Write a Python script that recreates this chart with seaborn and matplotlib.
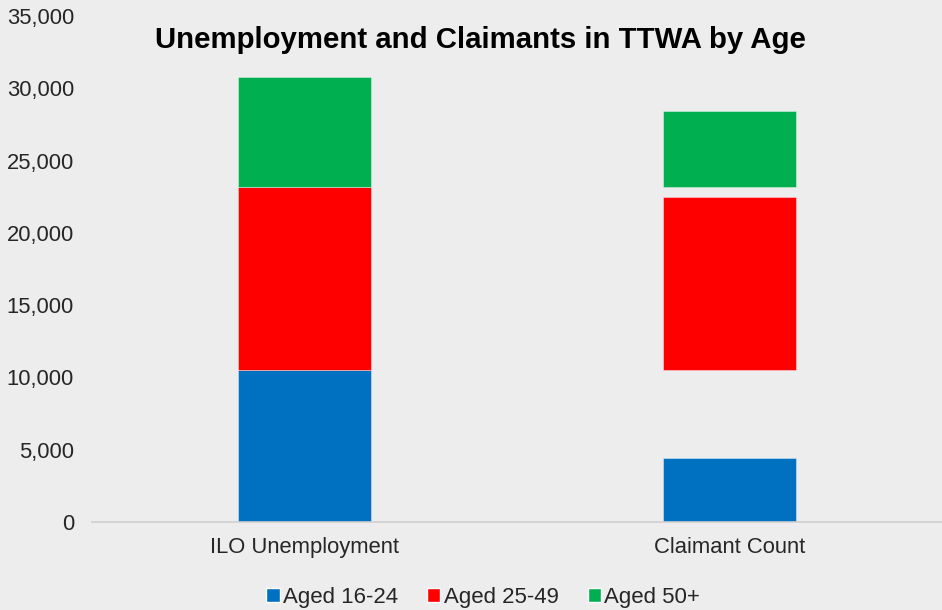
import numpy as np
import matplotlib.pyplot as plt
import seaborn as sns
from matplotlib.ticker import FuncFormatter
from matplotlib.patches import Patch

# data
categories = ['ILO Unemployment', 'Claimant Count']
age_groups = ['Aged 16-24', 'Aged 25-49', 'Aged 50+']
ilo_values = [10500, 12700, 7600]
claimant_values = [4400, 12000, 5200]
colors = ['#0070C0', '#FF0000', '#00B050']

bg = '#EDEDED'
sns.set_theme(style='white')
plt.rcParams['font.family'] = ['Liberation Sans', 'DejaVu Sans']

fig = plt.figure(figsize=(9.42, 6.10), dpi=100, facecolor=bg)
ax = fig.add_axes([0.0977, 0.1443, 0.9023, 0.8295])
ax.set_facecolor(bg)

x = np.arange(len(categories))
width = 0.315

# the original chart puts each claimant segment on the running total of the ILO bar
ilo_bottoms = np.concatenate([[0], np.cumsum(ilo_values)[:-1]])
for i in range(len(age_groups)):
    ax.bar(x[0], ilo_values[i], width, bottom=ilo_bottoms[i], color=colors[i],
           edgecolor=(1, 1, 1, 0.45), linewidth=0.6)
    ax.bar(x[1], claimant_values[i], width, bottom=ilo_bottoms[i], color=colors[i],
           edgecolor=(1, 1, 1, 0.45), linewidth=0.6)

ax.set_xlim(-0.5, 1.5)
ax.set_ylim(0, 35000)
ax.set_yticks(range(0, 35001, 5000))
ax.yaxis.set_major_formatter(FuncFormatter(lambda v, p: f'{int(v):,}'))
ax.set_xticks(x)
ax.set_xticklabels(categories)
ax.tick_params(axis='y', length=0, pad=13, labelsize=15.8, labelcolor='#262626')
ax.tick_params(axis='x', length=0, pad=11, labelsize=15.8, labelcolor='#262626')

for s in ['top', 'right', 'left']:
    ax.spines[s].set_visible(False)
ax.spines['bottom'].set_color('#D0D0D0')
ax.spines['bottom'].set_linewidth(1.2)

fig.text(0.51, 0.934, 'Unemployment and Claimants in TTWA by Age',
         ha='center', va='center', fontsize=21.2, fontweight='bold', color='black')

handles = [Patch(facecolor=c, label=l) for c, l in zip(colors, age_groups)]
fig.legend(handles=handles, loc='center', bbox_to_anchor=(0.513, 0.021), ncol=3,
           frameon=False, fontsize=16, handlelength=0.6, handleheight=0.6,
           handletextpad=0.15, columnspacing=1.3, labelcolor='#262626')

fig.savefig('out.png', dpi=100, facecolor=bg)
